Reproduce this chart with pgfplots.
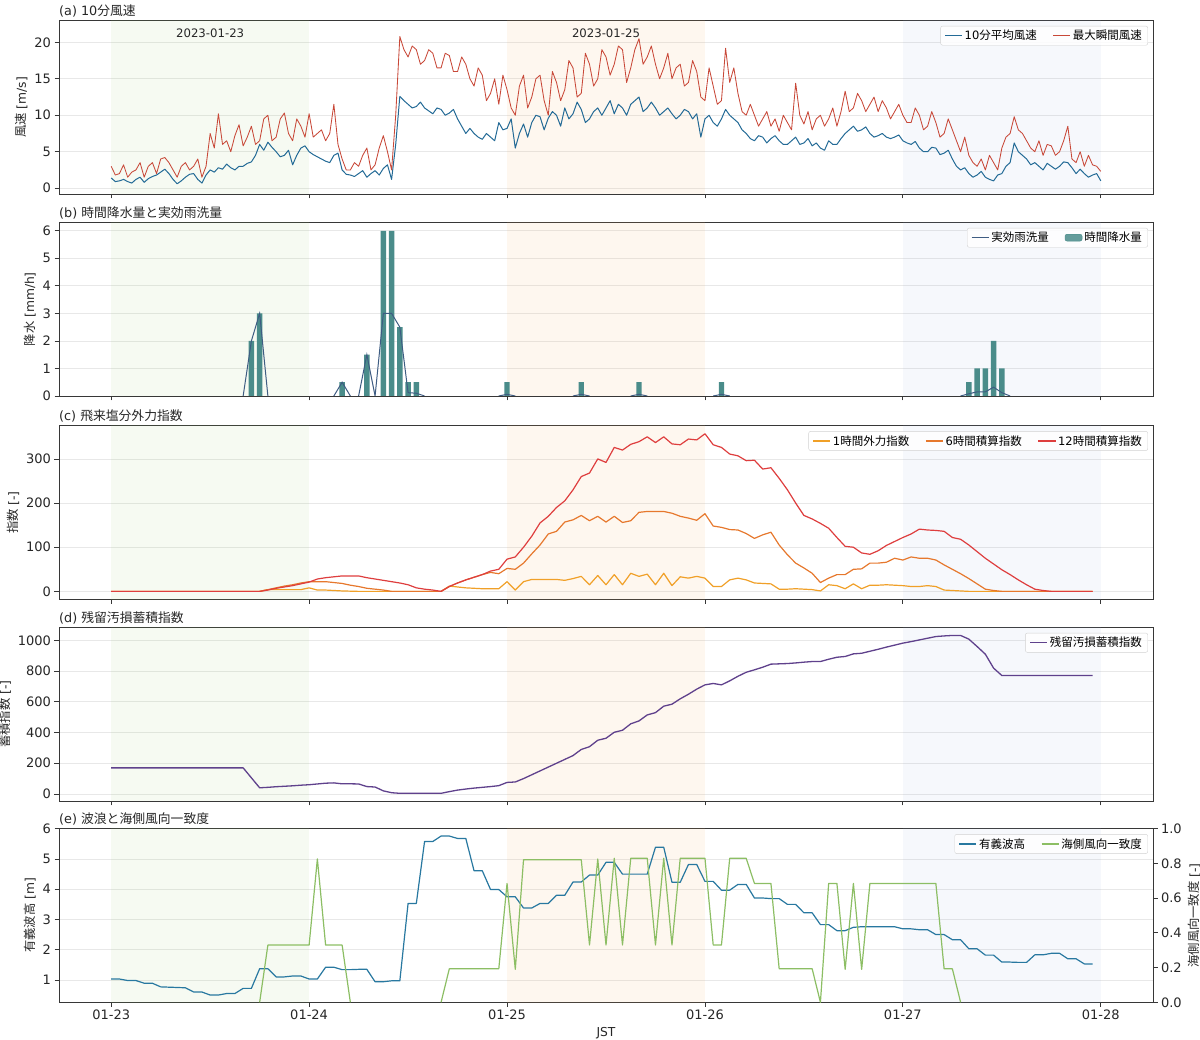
\documentclass[border=0pt]{standalone}
\usepackage{fontspec}
\setmainfont{DejaVu Sans}
\newfontfamily\jp{Noto Sans CJK JP}
\newcommand{\J}[1]{{\jp #1}}
\usepackage{pgfplots}
\usepackage{pgfplotstable}
\pgfplotsset{compat=1.18}

\definecolor{avgc}{RGB}{35,106,150}
\definecolor{gustc}{RGB}{200,72,56}
\definecolor{rainc}{RGB}{74,140,138}
\definecolor{effc}{RGB}{62,92,130}
\definecolor{c1h}{RGB}{240,160,40}
\definecolor{c6h}{RGB}{230,120,45}
\definecolor{c12h}{RGB}{222,62,62}
\definecolor{purp}{RGB}{95,65,140}
\definecolor{wavec}{RGB}{40,120,160}
\definecolor{seac}{RGB}{140,190,100}
\definecolor{spg}{RGB}{150,200,110}
\definecolor{spo}{RGB}{250,175,95}
\definecolor{spb}{RGB}{150,175,220}
\definecolor{gridc}{RGB}{232,232,232}
\definecolor{spinec}{RGB}{55,55,55}

\pgfplotstableread{
h avg gust
0 1.4 3.0
0.5 0.9 1.8
1 1.0 2.0
1.5 1.2 3.2
2 0.9 1.5
2.5 0.7 2.2
3 1.2 2.5
3.5 1.5 3.5
4 0.8 1.5
4.5 1.3 3.0
5 1.6 3.5
5.5 1.8 2.0
6 2.2 4.0
6.5 2.6 4.2
7 2.0 3.5
7.5 1.2 2.5
8 0.6 1.5
8.5 1.0 3.0
9 1.5 3.5
9.5 1.9 2.5
10 2.0 3.0
10.5 1.2 4.0
11 0.7 1.5
11.5 1.8 3.0
12 2.5 7.5
12.5 2.2 5.5
13 2.8 10.2
13.5 2.6 6.0
14 3.3 6.5
14.5 2.8 5.0
15 2.5 7.2
15.5 3.0 8.7
16 3.0 5.8
16.5 3.4 7.0
17 3.6 8.5
17.5 4.5 6.0
18 6.0 6.5
18.5 5.2 9.5
19 6.3 10.0
19.5 5.6 6.5
20 5.0 7.0
20.5 4.3 9.5
21 4.5 10.3
21.5 5.2 7.5
22 3.2 6.5
22.5 4.5 9.5
23 5.5 8.5
23.5 5.8 7.0
24 5.0 10.2
24.5 4.6 7.0
25 4.3 7.5
25.5 4.0 8.0
26 3.7 6.5
26.5 3.5 7.5
27 4.5 11.5
27.5 4.8 6.0
28 2.5 4.0
28.5 1.9 2.5
29 1.8 2.5
29.5 1.6 3.5
30 2.0 3.0
30.5 2.4 4.5
31 1.5 5.5
31.5 2.0 2.5
32 2.4 3.2
32.5 1.8 5.5
33 2.7 7.2
33.5 3.2 5.0
34 1.2 2.5
34.5 6.0 10.0
35 12.6 20.8
35.5 12.0 19.0
36 11.5 18.0
36.5 11.0 19.5
37 11.2 19.0
37.5 11.8 17.0
38 11.0 17.5
38.5 10.6 19.0
39 10.2 18.5
39.5 11.0 16.5
40 10.8 16.5
40.5 10.0 18.5
41 10.3 18.2
41.5 10.8 16.0
42 9.5 16.0
42.5 8.5 18.0
43 7.5 17.0
43.5 8.2 15.0
44 7.5 14.0
44.5 7.0 16.5
45 6.7 15.5
45.5 7.5 12.0
46 7.0 13.0
46.5 6.5 15.0
47 9.0 11.5
47.5 8.0 15.5
48 8.2 13.5
48.5 9.5 11.0
49 5.5 10.0
49.5 7.5 14.0
50 8.8 15.5
50.5 7.0 11.0
51 9.0 12.5
51.5 10.0 15.0
52 9.8 15.5
52.5 8.0 12.0
53 9.6 10.0
53.5 10.5 16.0
54 10.0 14.5
54.5 8.5 12.0
55 11.0 13.5
55.5 9.5 17.5
56 10.2 16.5
56.5 11.8 12.5
57 10.8 13.0
57.5 9.0 18.5
58 9.5 17.0
58.5 10.5 14.0
59 11.0 15.0
59.5 10.0 19.0
60 11.0 18.0
60.5 12.0 15.5
61 10.2 17.0
61.5 11.5 19.5
62 11.0 19.0
62.5 10.0 14.5
63 11.5 16.5
63.5 12.0 19.0
64 12.5 20.5
64.5 10.5 17.0
65 11.0 18.0
65.5 11.8 19.5
66 11.0 17.0
66.5 10.0 15.0
67 10.5 16.5
67.5 11.0 18.5
68 10.2 15.0
68.5 9.5 16.5
69 10.0 17.0
69.5 10.8 14.0
70 10.5 14.5
70.5 9.5 17.5
71 10.2 16.0
71.5 7.0 12.5
72 9.5 12.0
72.5 10.0 16.5
73 9.0 14.0
73.5 8.5 11.5
74 9.5 12.0
74.5 10.8 19.2
75 10.0 14.5
75.5 9.5 16.5
76 9.0 13.0
76.5 8.0 10.5
77 7.5 10.0
77.5 6.8 11.5
78 6.5 10.0
78.5 7.2 8.5
79 7.0 9.5
79.5 6.2 10.5
80 6.8 8.5
80.5 7.2 9.5
81 6.5 7.8
81.5 6.0 10.0
82 6.0 9.0
82.5 6.5 8.0
83 7.0 14.4
83.5 6.0 10.0
84 6.2 8.8
84.5 6.8 10.5
85 5.8 8.0
85.5 6.2 9.5
86 5.5 10.0
86.5 5.2 8.5
87 6.5 9.5
87.5 6.0 11.0
88 6.0 8.5
88.5 6.8 10.5
89 7.5 13.3
89.5 8.0 10.5
90 8.5 11.0
90.5 7.8 13.0
91 8.0 12.0
91.5 8.4 10.5
92 7.5 11.5
92.5 7.0 12.5
93 7.2 10.5
93.5 7.5 12.0
94 7.0 11.0
94.5 6.8 9.5
95 7.0 10.5
95.5 7.3 11.5
96 6.5 10.0
96.5 6.2 9.0
97 6.0 9.0
97.5 6.4 11.0
98 5.5 10.0
98.5 5.0 8.0
99 5.0 8.5
99.5 5.6 10.5
100 5.5 9.0
100.5 4.6 7.0
101 4.8 7.5
101.5 5.2 9.5
102 4.0 8.0
102.5 3.0 6.5
103 2.5 5.0
103.5 2.8 7.0
104 2.0 4.5
104.5 1.5 3.5
105 1.8 3.0
105.5 2.3 4.0
106 1.5 2.5
106.5 1.2 4.5
107 1.0 3.5
107.5 1.8 2.5
108 2.0 5.5
108.5 3.0 7.0
109 3.5 7.5
109.5 6.2 9.8
110 5.0 8.0
110.5 4.5 7.5
111 4.0 6.5
111.5 3.2 5.5
112 3.5 5.0
112.5 3.0 6.5
113 2.5 4.5
113.5 3.4 6.0
114 3.0 5.8
114.5 2.6 4.5
115 3.0 5.0
115.5 3.6 6.5
116 3.5 8.5
116.5 2.8 4.0
117 2.0 3.5
117.5 2.6 5.0
118 2.0 3.0
118.5 1.5 4.5
119 1.8 3.2
119.5 2.0 3.0
120 1.0 2.3
}\windtab

\pgfplotstableread{
h v
17 2
18 3
28 0.5
31 1.5
33 6
34 6
35 2.5
36 0.5
37 0.5
48 0.5
57 0.5
64 0.5
74 0.5
104 0.5
105 1
106 1
107 2
108 1
}\raintab

\pgfplotstableread{
h v
16 0
17 2
18 3
19 0
23 nan
27 0
28 0.5
29 0
29.5 nan
30 0
31 1.5
32 0
33 3
34 3
35 2.5
36 0.12
37 0.1
38 0
42 nan
47 0
48 0.06
49 0
52 nan
56 0
57 0.06
58 0
60 nan
63 0
64 0.06
65 0
70 nan
73 0
74 0.06
75 0
90 nan
103 0
104 0.08
105 0.15
106 0.15
107 0.32
108 0.12
109 0
}\efftab

\pgfplotstableread{
h a b c
0 0 0 0
1 0 0 0
2 0 0 0
3 0 0 0
4 0 0 0
5 0 0 0
6 0 0 0
7 0 0 0
8 0 0 0
9 0 0 0
10 0 0 0
11 0 0 0
12 0 0 0
13 0 0 0
14 0 0 0
15 0 0 0
16 0 0 0
17 0 0 0
18 0 0 0
19 4 4 3
20 4 8 7
21 4 12 10
22 4 15 13
23 4 19 17
24 8 22 21
25 3 22 28
26 3 22 31
27 2 20 33
28 1 18 35
29 0.5 14 35
30 0 11 35
31 0 7 31
32 0 5 28
33 0 3 25
34 0 0 22
35 0 0 19
36 0 0 15
37 0 0 8
38 0 0 5
39 0 0 3
40 0 0 0
41 12 11 11
42 10 19 19
43 8 26 26
44 7 32 32
45 6 38 38
46 6 43 46
47 6 40 50
48 22 52 73
49 3 50 78
50 22 64 100
51 27 85 125
52 27 105 155
53 27 130 170
54 27 136 190
55 25 157 205
56 29 162 230
57 34 172 260
58 15 160 268
59 36 170 300
60 15 157 292
61 38 170 326
62 15 156 320
63 41 160 333
64 34 179 339
65 39 181 350
66 15 181 337
67 41 181 350
68 13 177 334
69 33 170 332
70 30 166 345
71 34 161 343
72 30 176 357
73 11 148 332
74 11 145 326
75 26 140 311
76 30 139 307
77 26 131 296
78 19 120 297
79 18 128 277
80 17 134 280
81 5 105 256
82 5 83 230
83 6 64 200
84 5 53 172
85 4 41 164
86 1 20 154
87 15 30 143
88 13 38 122
89 6 38 102
90 17 50 100
91 6 51 87
92 14 64 84
93 14 64 92
94 15 66 104
95 14 75 113
96 13 71 122
97 11 78 130
98 11 75 141
99 13 75 139
100 11 71 138
101 3 60 136
102 2 50 122
103 1 40 118
104 0 29 105
105 0 17 90
106 0 5 75
107 0 2 62
108 0 0 49
109 0 0 38
110 0 0 26
111 0 0 15
112 0 0 5
113 0 0 2
114 0 0 0
115 0 0 0
116 0 0 0
117 0 0 0
118 0 0 0
119 0 0 0
}\salttab

\pgfplotstableread{
h v
0 170
1 170
2 170
3 170
4 170
5 170
6 170
7 170
8 170
9 170
10 170
11 170
12 170
13 170
14 170
15 170
16 170
17 105
18 40
19 43
20 47
21 50
22 53
23 57
24 60
25 65
26 70
27 72
28 66
29 66
30 65
31 48
32 45
33 20
34 8
35 4
36 4
37 4
38 4
39 4
40 4
41 15
42 25
43 32
44 38
45 43
46 48
47 54
48 75
49 78
50 100
51 125
52 150
53 175
54 200
55 225
56 250
57 290
58 308
59 350
60 363
61 402
62 415
63 457
64 476
65 515
66 530
67 572
68 585
69 620
70 650
71 683
72 711
73 720
74 711
75 737
76 767
77 793
78 809
79 826
80 846
81 848
82 850
83 854
84 859
85 863
86 863
87 878
88 891
89 896
90 913
91 917
92 930
93 943
94 957
95 970
96 983
97 993
98 1004
99 1015
100 1026
101 1030
102 1033
103 1033
104 1009
105 961
106 911
107 820
108 772
109 772
110 772
111 772
112 772
113 772
114 772
115 772
116 772
117 772
118 772
119 772
}\acctab

\pgfplotstableread{
h wave sea
0 1.03 nan
1 1.03 nan
2 0.98 nan
3 0.98 nan
4 0.89 nan
5 0.89 nan
6 0.77 nan
7 0.76 nan
8 0.75 nan
9 0.74 nan
10 0.60 nan
11 0.60 nan
12 0.50 nan
13 0.50 nan
14 0.55 nan
15 0.55 nan
16 0.72 nan
17 0.72 nan
18 1.37 0
19 1.37 0.33
20 1.10 0.33
21 1.10 0.33
22 1.13 0.33
23 1.13 0.33
24 1.03 0.33
25 1.03 0.826
26 1.42 0.33
27 1.42 0.33
28 1.34 0.33
29 1.34 0
30 1.35 nan
31 1.35 nan
32 0.94 nan
33 0.94 nan
34 0.97 nan
35 0.97 nan
36 3.53 nan
37 3.53 nan
38 5.58 nan
39 5.58 nan
40 5.76 0
41 5.76 0.193
42 5.68 0.193
43 5.68 0.193
44 4.61 0.193
45 4.61 0.193
46 3.99 0.193
47 3.99 0.193
48 3.75 0.685
49 3.75 0.19
50 3.38 0.822
51 3.38 0.822
52 3.53 0.822
53 3.53 0.822
54 3.80 0.822
55 3.80 0.822
56 4.24 0.822
57 4.24 0.822
58 4.47 0.33
59 4.47 0.826
60 4.89 0.33
61 4.89 0.83
62 4.50 0.33
63 4.50 0.83
64 4.50 0.83
65 4.50 0.83
66 5.39 0.33
67 5.39 0.83
68 4.23 0.33
69 4.23 0.83
70 4.82 0.83
71 4.82 0.83
72 4.26 0.83
73 4.26 0.33
74 3.97 0.33
75 3.97 0.83
76 4.16 0.83
77 4.16 0.83
78 3.71 0.685
79 3.71 0.685
80 3.69 0.685
81 3.69 0.193
82 3.50 0.193
83 3.50 0.193
84 3.22 0.193
85 3.22 0.193
86 2.83 0
87 2.83 0.685
88 2.63 0.685
89 2.63 0.19
90 2.74 0.685
91 2.76 0.19
92 2.76 0.685
93 2.76 0.685
94 2.76 0.685
95 2.76 0.685
96 2.69 0.685
97 2.69 0.685
98 2.66 0.685
99 2.66 0.685
100 2.50 0.685
101 2.50 0.193
102 2.33 0.193
103 2.33 0
104 2.03 nan
105 2.03 nan
106 1.82 nan
107 1.82 nan
108 1.59 nan
109 1.59 nan
110 1.58 nan
111 1.58 nan
112 1.83 nan
113 1.83 nan
114 1.88 nan
115 1.88 nan
116 1.70 nan
117 1.70 nan
118 1.53 nan
119 1.53 nan
}\wavetab

\newcommand{\spans}[2]{%
  \fill[spg, fill opacity=0.09] (axis cs:0,#1) rectangle (axis cs:24,#2);
  \fill[spo, fill opacity=0.10] (axis cs:48,#1) rectangle (axis cs:72,#2);
  \fill[spb, fill opacity=0.09] (axis cs:96,#1) rectangle (axis cs:120,#2);
}

\pgfplotsset{
  base/.style={
    scale only axis, width=1094pt, height=173.5pt,
    xmin=-6.33, xmax=126.33,
    xtick={0,24,48,72,96,120},
    xticklabels={},
    tick align=outside, tick pos=left,
    major tick length=4.5pt,
    every tick/.style={spinec, line width=0.8pt},
    axis line style={spinec, line width=0.9pt},
    ymajorgrids, grid style={gridc, line width=0.8pt},
    ticklabel style={font=\fontsize{13}{15}\selectfont, text=black!85},
    /pgf/number format/assume math mode=true,
    /pgf/number format/1000 sep={},
    label style={font=\fontsize{12.3}{14}\selectfont, text=black!85},
    title style={at={(0,1)}, anchor=south west, inner sep=0pt, yshift=-3pt, font=\fontsize{12.8}{15}\selectfont, text=black!85},
    legend style={at={(0.9954,0.969)}, anchor=north east, font=\fontsize{11.5}{13}\selectfont, draw=black!18, rounded corners=2pt, fill=white, fill opacity=0.85, text opacity=1, inner xsep=4pt, inner ysep=2pt, /tikz/every even column/.append style={column sep=14pt}},
    legend cell align=left,
    unbounded coords=jump,
  },
}

\begin{document}
\begin{tikzpicture}
\path[use as bounding box] (0,0) rectangle (1200pt,1040pt);

% (a)
\begin{axis}[base, at={(59pt,846pt)}, anchor=south west,
  ymin=-0.8, ymax=23.0, ytick={0,5,10,15,20},
  title={(a) 10\J{分風速}}, ylabel={\J{風速} [m/s]}, legend columns=2]
\spans{-5}{30}
\addplot[avgc, line width=1pt, line join=round] table[x=h, y=avg] {\windtab};
\addlegendentry{10\J{分平均風速}}
\addplot[gustc, line width=0.85pt, line join=round] table[x=h, y=gust] {\windtab};
\addlegendentry{\J{最大瞬間風速}}
\node[font=\fontsize{11.7}{14}\selectfont, text=black!85] at (axis cs:12,21.3) {2023-01-23};
\node[font=\fontsize{11.7}{14}\selectfont, text=black!85] at (axis cs:60,21.3) {2023-01-25};
\end{axis}

% (b)
\begin{axis}[base, at={(59pt,644pt)}, anchor=south west,
  ymin=0, ymax=6.3, ytick={0,1,2,3,4,5,6},
  title={(b) \J{時間降水量と実効雨洗量}}, ylabel={\J{降水} [mm/h]}, legend columns=2]
\spans{-1}{10}
\addlegendimage{effc, line width=1pt}
\addlegendentry{\J{実効雨洗量}}
\addlegendimage{legend image code/.code={\fill[rainc] (0cm,-0.12cm) rectangle (0.6cm,0.12cm);}}
\addlegendentry{\J{時間降水量}}
\addplot[ybar, bar width=0.65, fill=rainc, draw=none, forget plot] table[x=h, y=v] {\raintab};
\addplot[effc, line width=1pt, forget plot] table[x=h, y=v] {\efftab};
\end{axis}

% (c)
\begin{axis}[base, at={(59pt,440.7pt)}, anchor=south west,
  ymin=-17.9, ymax=375, ytick={0,100,200,300},
  title={(c) \J{飛来塩分外力指数}}, ylabel={\J{指数} [-]}, legend columns=3]
\spans{-50}{500}
\addplot[c1h, line width=1.2pt, line join=round] table[x=h, y=a] {\salttab};
\addlegendentry{1\J{時間外力指数}}
\addplot[c6h, line width=1.2pt, line join=round] table[x=h, y=b] {\salttab};
\addlegendentry{6\J{時間積算指数}}
\addplot[c12h, line width=1.2pt, line join=round] table[x=h, y=c] {\salttab};
\addlegendentry{12\J{時間積算指数}}
\end{axis}

% (d)
\begin{axis}[base, at={(59pt,239pt)}, anchor=south west,
  ymin=-46, ymax=1085, ytick={0,200,400,600,800,1000},
  title={(d) \J{残留汚損蓄積指数}}, ylabel={\J{蓄積指数} [-]}]
\spans{-100}{1200}
\addplot[purp, line width=1.3pt, line join=round] table[x=h, y=v] {\acctab};
\addlegendentry{\J{残留汚損蓄積指数}}
\end{axis}

% (e)
\begin{axis}[base, at={(59pt,37.7pt)}, anchor=south west,
  ymin=0.26, ymax=6, ytick={1,2,3,4,5,6},
  xticklabels={01-23,01-24,01-25,01-26,01-27,01-28},
  title={(e) \J{波浪と海側風向一致度}}, ylabel={\J{有義波高} [m]}, xlabel={JST}]
\spans{-1}{10}
\addplot[wavec, line width=1.2pt, line join=round] table[x=h, y=wave] {\wavetab};
\end{axis}
\begin{axis}[base, at={(59pt,37.7pt)}, anchor=south west,
  ymajorgrids=false, axis x line=none, axis y line*=right,
  ytick pos=right, yticklabel pos=right,
  ymin=0, ymax=1, ytick={0,0.2,0.4,0.6,0.8,1.0},
  yticklabel={\pgfmathprintnumber[fixed,fixed zerofill,precision=1]{\tick}},
  ylabel={\J{海側風向一致度} [-]}, legend columns=2]
\addlegendimage{wavec, line width=1.2pt}
\addlegendentry{\J{有義波高}}
\addplot[seac, line width=1.2pt, line join=round] table[x=h, y=sea] {\wavetab};
\addlegendentry{\J{海側風向一致度}}
\end{axis}
\end{tikzpicture}
\end{document}
